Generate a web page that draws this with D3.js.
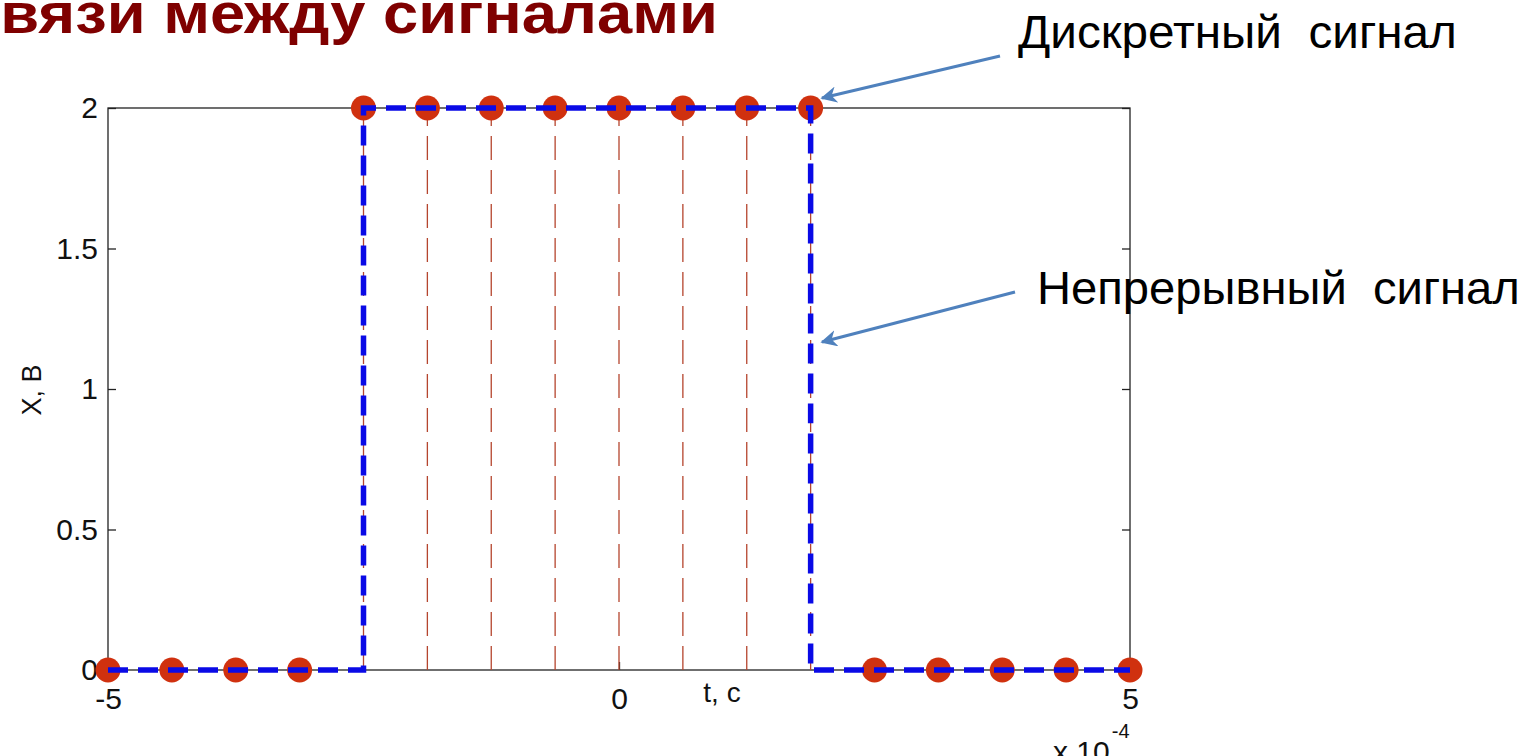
<!DOCTYPE html>
<html>
<head>
<meta charset="utf-8">
<script src="https://cdn.jsdelivr.net/npm/d3@7/dist/d3.min.js"></script>
<style>
  html, body { margin: 0; padding: 0; background: #fff; }
  svg { display: block; }
</style>
</head>
<body>
<svg id="chart" width="1530" height="756"></svg>
<script>
// Sample instants (units of 1e-4 s) and values of the discrete signal
const sampleT = [-5, -4.375, -3.75, -3.125, -2.5, -1.875, -1.25, -0.625, 0,
                 0.625, 1.25, 1.875, 2.5, 3.125, 3.75, 4.375, 5];
const sampleX = [0, 0, 0, 0, 2, 2, 2, 2, 2, 2, 2, 2, 0, 0, 0, 0, 0];

// Vertices of the continuous rectangular pulse
const contT = [-5, -2.5, -2.5, 1.875, 1.875, 5];
const contX = [0, 0, 2, 2, 0, 0];

// Axis ticks
const yTicks = [0, 0.5, 1, 1.5, 2];
const yTickLabels = ["0", "0.5", "1", "1.5", "2"];
const xTicks = [-5, 0, 5];
const xTickLabels = ["-5", "0", "5"];

const svg = d3.select("#chart");
const font = "'Liberation Sans', Arial, sans-serif";

const plot = { left: 108, right: 1130, top: 108, bottom: 670 };
const x = d3.scaleLinear().domain([-5, 5]).range([plot.left, plot.right]);
const y = d3.scaleLinear().domain([0, 2]).range([plot.bottom, plot.top]);

// Text stretched horizontally so that a given part of it spans a given width
function fittedText(str, measured, width, attrs) {
  const probe = svg.append("text").attr("font-family", font)
    .attr("font-size", attrs.size).attr("font-weight", attrs.weight || "normal")
    .style("white-space", "pre").text(measured);
  const w = probe.node().getComputedTextLength();
  probe.remove();
  const sx = width / w;
  return svg.append("text")
    .attr("transform", `translate(${attrs.x},${attrs.y}) scale(${sx},1)`)
    .attr("text-anchor", attrs.anchor || "start")
    .attr("font-family", font)
    .attr("font-size", attrs.size)
    .attr("font-weight", attrs.weight || "normal")
    .attr("fill", attrs.fill)
    .style("white-space", "pre")
    .text(str);
}

// Slide title (runs off the left edge)
fittedText("Связи между сигналами", "вязи между сигналами", 718,
  { x: 718, y: 33, size: 57, weight: "bold", fill: "#7f0000", anchor: "end" });

// Axes box
svg.append("rect")
  .attr("x", plot.left).attr("y", plot.top)
  .attr("width", plot.right - plot.left).attr("height", plot.bottom - plot.top)
  .attr("fill", "none").attr("stroke", "#222").attr("stroke-width", 1.3);

// Left axis
const left = svg.append("g")
  .attr("transform", `translate(${plot.left},0)`)
  .call(d3.axisLeft(y).tickValues(yTicks)
    .tickFormat((d, i) => yTickLabels[i])
    .tickSizeInner(-8).tickSizeOuter(0).tickPadding(10));
left.select(".domain").remove();
left.selectAll("line").attr("stroke", "#222").attr("stroke-width", 1.3);
left.selectAll("text").attr("font-family", font).attr("font-size", 30).attr("fill", "#111");

// Right axis ticks
const right = svg.append("g")
  .attr("transform", `translate(${plot.right},0)`)
  .call(d3.axisRight(y).tickValues(yTicks).tickFormat("")
    .tickSizeInner(-8).tickSizeOuter(0));
right.select(".domain").remove();
right.selectAll("line").attr("stroke", "#222").attr("stroke-width", 1.3);

// Bottom axis
const bottom = svg.append("g")
  .attr("transform", `translate(0,${plot.bottom})`)
  .call(d3.axisBottom(x).tickValues(xTicks)
    .tickFormat((d, i) => xTickLabels[i])
    .tickSizeInner(-8).tickSizeOuter(0).tickPadding(18));
bottom.select(".domain").remove();
bottom.selectAll("line").attr("stroke", "#222").attr("stroke-width", 1.3);
bottom.selectAll("text").attr("font-family", font).attr("font-size", 30).attr("fill", "#111");

// Axis titles
svg.append("text")
  .attr("x", 722).attr("y", 702)
  .attr("text-anchor", "middle")
  .attr("font-family", font).attr("font-size", 28).attr("fill", "#111")
  .text("t, c");

svg.append("text")
  .attr("transform", "translate(41,390) rotate(-90)")
  .attr("text-anchor", "middle")
  .attr("font-family", font).attr("font-size", 27).attr("fill", "#111")
  .text("X, B");

const expo = svg.append("text")
  .attr("x", 1053).attr("y", 762)
  .attr("font-family", font).attr("font-size", 30).attr("fill", "#111");
expo.append("tspan").text("x 10");
expo.append("tspan").attr("dx", 2).attr("dy", -24).attr("font-size", 20).text("-4");

// Stems of the discrete samples
const samples = sampleT.map((t, i) => ({ t, v: sampleX[i] }));
svg.append("g").selectAll("line")
  .data(samples.filter(d => d.v !== 0))
  .join("line")
  .attr("x1", d => x(d.t)).attr("x2", d => x(d.t))
  .attr("y1", y(0)).attr("y2", d => y(d.v))
  .attr("stroke", "#b5452e").attr("stroke-width", 1.3)
  .attr("stroke-dasharray", "24,10");

// Sample markers
svg.append("g").selectAll("circle")
  .data(samples)
  .join("circle")
  .attr("cx", d => x(d.t)).attr("cy", d => y(d.v))
  .attr("r", 12.5)
  .attr("fill", "#d0310f");

// Continuous signal
const line = d3.line().x(d => x(d[0])).y(d => y(d[1]));
svg.append("path")
  .datum(contT.map((t, i) => [t, contX[i]]))
  .attr("d", line)
  .attr("fill", "none")
  .attr("stroke", "#0a0ae6").attr("stroke-width", 5.5)
  .attr("stroke-dasharray", "20,10");

// Annotations with arrows
const arrowColor = "#4f81bd";
svg.append("defs").append("marker")
  .attr("id", "head")
  .attr("viewBox", "0 0 10 10")
  .attr("refX", 9).attr("refY", 5)
  .attr("markerWidth", 5.5).attr("markerHeight", 5.5)
  .attr("markerUnits", "strokeWidth")
  .attr("orient", "auto")
  .append("path")
  .attr("d", "M0,0 L10,5 L0,10 L3,5 Z")
  .attr("fill", arrowColor);

const notes = [
  { text: "Дискретный  сигнал", tx: 1018, ty: 48, width: 439, from: [1000, 56], to: [822, 98] },
  { text: "Непрерывный  сигнал", tx: 1037, ty: 304, width: 483, from: [1015, 292], to: [822, 342] }
];
notes.forEach(n => {
  svg.append("line")
    .attr("x1", n.from[0]).attr("y1", n.from[1])
    .attr("x2", n.to[0]).attr("y2", n.to[1])
    .attr("stroke", arrowColor).attr("stroke-width", 3)
    .attr("marker-end", "url(#head)");
  fittedText(n.text, n.text, n.width,
    { x: n.tx, y: n.ty, size: 46, fill: "#000" });
});
</script>
</body>
</html>
